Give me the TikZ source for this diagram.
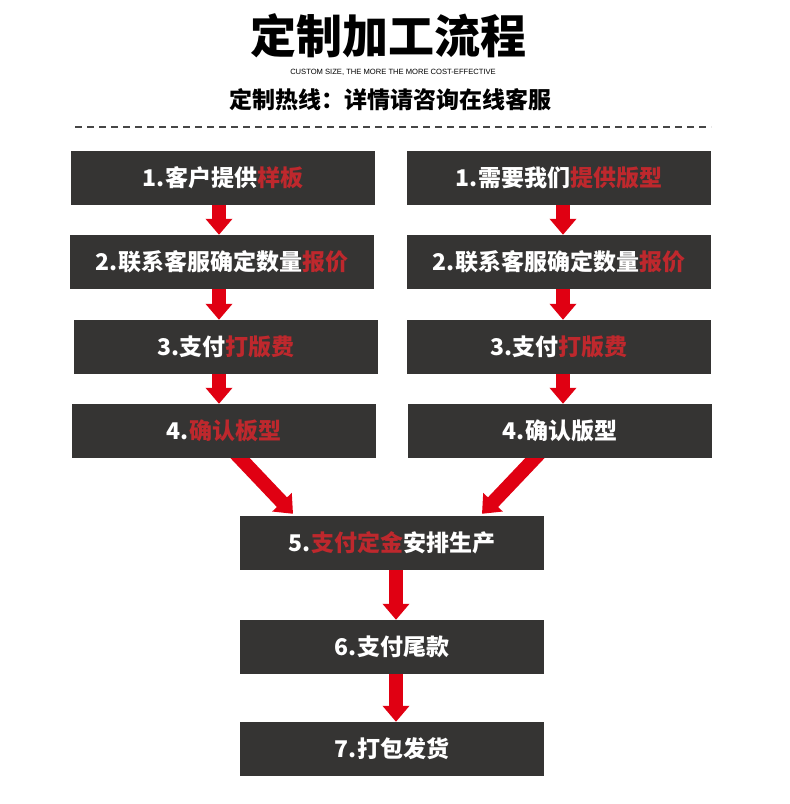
\documentclass[tikz,border=0pt]{standalone}
\usepackage{fontspec}
\setmainfont{Noto Sans CJK SC}
\newfontfamily\latinsans{Liberation Sans}
\usetikzlibrary{arrows.meta,backgrounds}
\definecolor{boxgray}{RGB}{53,52,51}
\definecolor{hired}{RGB}{190,40,45}
\definecolor{flowred}{RGB}{224,0,18}
\definecolor{dashgray}{RGB}{70,70,70}
\newcommand{\hl}[1]{\textcolor{hired}{#1}}
\tikzset{
  stepbox/.style={fill=boxgray, minimum width=304pt, minimum height=54pt, inner sep=0pt, text=white, font=\bfseries\fontsize{23}{25}\selectfont},
  flow/.style={-{Triangle[width=26pt,length=16pt]}, line width=14pt, draw=flowred},
}

\begin{document}
\begin{tikzpicture}[x=1pt, y=-1pt]
\useasboundingbox (0,0) rectangle (790,804);
% heading
\node (title) at (388,36) {\bfseries\fontsize{46}{48}\selectfont 定制加工流程};
\node (sub) at (393,72) {\latinsans\fontsize{7.6}{8}\selectfont CUSTOM SIZE, THE MORE THE MORE COST-EFFECTIVE};
\node (hotline) at (390,100) {\bfseries\fontsize{23}{25}\selectfont 定制热线：详情请咨询在线客服};
\draw[dashgray, line width=1.2pt, dash pattern=on 7pt off 5pt] (75,127) -- (711,127);
% left column
\node[stepbox] (L1) at (223,178) {1.客户提供\hl{样板}};
\node[stepbox] (L2) at (222,262) {2.联系客服确定数量\hl{报价}};
\node[stepbox] (L3) at (226,347) {3.支付\hl{打版费}};
\node[stepbox] (L4) at (224,431) {4.\hl{确认板型}};
% right column
\node[stepbox] (R1) at (559,178) {1.需要我们\hl{提供版型}};
\node[stepbox] (R2) at (559,262) {2.联系客服确定数量\hl{报价}};
\node[stepbox] (R3) at (559,347) {3.支付\hl{打版费}};
\node[stepbox] (R4) at (560,431) {4.确认版型};
% common steps
\node[stepbox] (M5) at (392,543) {5.\hl{支付定金}安排生产};
\node[stepbox] (M6) at (392,647) {6.支付尾款};
\node[stepbox] (M7) at (392,749) {7.打包发货};
% arrows
\begin{scope}[on background layer]
\draw[flow] ([xshift=-4pt]L1.south) -- ([xshift=-4pt]L1.south |- L2.north);
\draw[flow] ([xshift=-3pt]L2.south) -- ([xshift=-3pt]L2.south |- L3.north);
\draw[flow] ([xshift=-7pt]L3.south) -- ([xshift=-7pt]L3.south |- L4.north);
\draw[flow] ([xshift=4pt]R1.south) -- ([xshift=4pt]R1.south |- R2.north);
\draw[flow] ([xshift=4pt]R2.south) -- ([xshift=4pt]R2.south |- R3.north);
\draw[flow] ([xshift=4pt]R3.south) -- ([xshift=4pt]R3.south |- R4.north);
\draw[flow] ([xshift=8.6pt,yshift=8pt]L4.south) -- ([xshift=-99pt,yshift=2pt]M5.north);
\draw[flow] ([xshift=-17.6pt,yshift=8pt]R4.south) -- ([xshift=90pt,yshift=2pt]M5.north);
\draw[flow] ([xshift=4pt]M5.south) -- ([xshift=4pt]M5.south |- M6.north);
\draw[flow] ([xshift=4pt]M6.south) -- ([xshift=4pt]M6.south |- M7.north);
\end{scope}
\end{tikzpicture}
\end{document}
